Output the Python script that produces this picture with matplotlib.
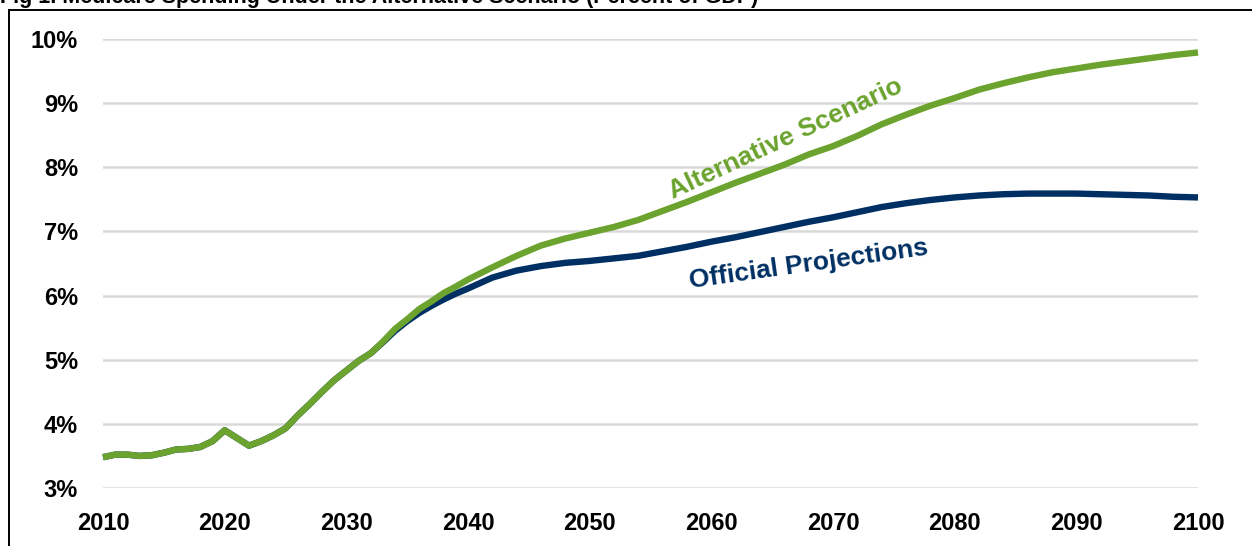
import matplotlib.pyplot as plt
from matplotlib.lines import Line2D

# Medicare spending, percent of GDP
alt_years = [2010, 2011, 2012, 2013, 2014, 2015, 2016, 2017, 2018, 2019,
             2020, 2021, 2022, 2023, 2024, 2025, 2026, 2027, 2028, 2029,
             2030, 2031, 2032, 2033, 2034, 2035, 2036, 2037, 2038, 2039,
             2040, 2042, 2044, 2046, 2048, 2050, 2052, 2054, 2056, 2058,
             2060, 2062, 2064, 2066, 2068, 2070, 2072, 2074, 2076, 2078,
             2080, 2082, 2084, 2086, 2088, 2090, 2092, 2094, 2096, 2098, 2100]
alt_values = [3.48, 3.52, 3.52, 3.50, 3.51, 3.55, 3.60, 3.61, 3.64, 3.73,
              3.90, 3.78, 3.66, 3.73, 3.82, 3.93, 4.13, 4.31, 4.50, 4.68,
              4.83, 4.98, 5.10, 5.28, 5.48, 5.63, 5.79, 5.91, 6.04, 6.14,
              6.25, 6.44, 6.62, 6.78, 6.89, 6.98, 7.07, 7.18, 7.32, 7.46,
              7.61, 7.76, 7.90, 8.04, 8.20, 8.33, 8.49, 8.67, 8.82, 8.96,
              9.08, 9.21, 9.31, 9.40, 9.48, 9.54, 9.60, 9.65, 9.70, 9.75, 9.79]

off_years = [2010, 2011, 2012, 2013, 2014, 2015, 2016, 2017, 2018, 2019,
             2020, 2021, 2022, 2023, 2024, 2025, 2026, 2027, 2028, 2029,
             2030, 2031, 2032, 2033, 2034, 2035, 2036, 2037, 2038, 2039,
             2040, 2042, 2044, 2046, 2048, 2050, 2052, 2054, 2056, 2058,
             2060, 2062, 2064, 2066, 2068, 2070, 2072, 2074, 2076, 2078,
             2080, 2082, 2084, 2086, 2088, 2090, 2092, 2094, 2096, 2098, 2100]
off_values = [3.48, 3.52, 3.52, 3.50, 3.51, 3.55, 3.60, 3.61, 3.64, 3.73,
              3.90, 3.78, 3.66, 3.73, 3.82, 3.93, 4.13, 4.31, 4.50, 4.68,
              4.83, 4.98, 5.10, 5.27, 5.45, 5.60, 5.73, 5.84, 5.94, 6.03,
              6.11, 6.28, 6.39, 6.46, 6.51, 6.54, 6.58, 6.62, 6.69, 6.76,
              6.84, 6.91, 6.99, 7.07, 7.15, 7.22, 7.30, 7.38, 7.44, 7.49,
              7.53, 7.56, 7.58, 7.59, 7.59, 7.59, 7.58, 7.57, 7.56, 7.54, 7.53]

x_ticks = [2010, 2020, 2030, 2040, 2050, 2060, 2070, 2080, 2090, 2100]
y_ticks = [3, 4, 5, 6, 7, 8, 9, 10]

green = '#6ba32e'
navy = '#003063'

plt.rcParams['font.family'] = ['Liberation Sans', 'DejaVu Sans']
plt.rcParams['font.weight'] = 'bold'

fig = plt.figure(figsize=(12.52, 5.46), dpi=100)
ax = fig.add_axes([103 / 1252, 1 - 488 / 546, (1198 - 103) / 1252, (488 - 39) / 546])

ax.plot(off_years, off_values, color=navy, lw=4.6, solid_capstyle='butt', clip_on=False, zorder=3)
ax.plot(alt_years, alt_values, color=green, lw=4.6, solid_capstyle='butt', clip_on=False, zorder=4)

ax.set_xlim(2010, 2100)
ax.set_ylim(3, 10)
ax.set_xticks(x_ticks)
ax.set_yticks(y_ticks)
ax.set_yticklabels([f'{v}%' for v in y_ticks])
ax.tick_params(length=0, labelsize=17, colors='black')
ax.tick_params(axis='x', pad=17)
ax.tick_params(axis='y', pad=18)
ax.grid(axis='y', color='#d9d9d9', lw=1.8)
ax.set_axisbelow(True)
for s in ax.spines.values():
    s.set_visible(False)

ax.text(2066.1, 8.45, 'Alternative Scenario', color=green, fontsize=19, fontweight='bold',
        rotation=25, ha='center', va='center', rotation_mode='anchor')
ax.text(2068.0, 6.49, 'Official Projections', color=navy, fontsize=19, fontweight='bold',
        rotation=8, ha='center', va='center', rotation_mode='anchor')

# frame of the exhibit (cropped) and the cut-off title
fig.add_artist(Line2D([8.5 / 1252, 8.5 / 1252], [0, 1 - 9.5 / 546], color='black', lw=1.4))
fig.add_artist(Line2D([8.5 / 1252, 1], [1 - 9.5 / 546, 1 - 9.5 / 546], color='black', lw=1.4))
fig.text(0.0, 1 - 3 / 546, 'Fig 1. Medicare Spending Under the Alternative Scenario (Percent of GDP)',
         fontsize=15.5, fontweight='bold', ha='left', va='baseline')

fig.savefig('out.png', dpi=100)
